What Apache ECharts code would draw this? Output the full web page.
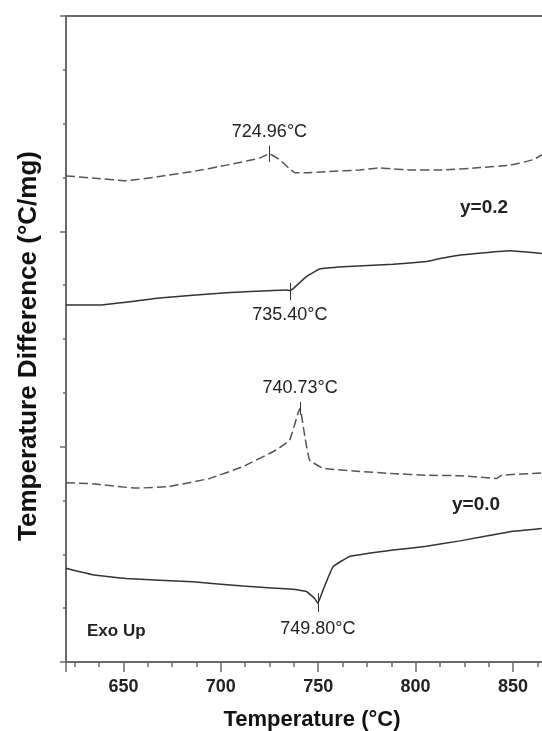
<!DOCTYPE html>
<html>
<head>
<meta charset="utf-8">
<script src="https://cdn.jsdelivr.net/npm/echarts@6/dist/echarts.min.js"></script>
<style>
  html, body { margin: 0; padding: 0; background: #fff; }
  #chart { width: 542px; height: 731px; }
</style>
</head>
<body>
<div id="chart"></div>
<script>
// DTA curves, y=0.2 (top pair) and y=0.0 (bottom pair), offset units
var tDash02 = [620.5, 634.1, 651.5, 668.5, 685.5, 703.0, 719.9, 724.96, 730.2, 735.3, 738.0, 744.0, 754.4, 771.3, 781.6, 788.0, 797.0, 814.0, 831.5, 848.5, 860.3, 864.9];
var vDash02 = [9.03, 8.99, 8.94, 9.02, 9.11, 9.23, 9.36, 9.44, 9.33, 9.16, 9.09, 9.09, 9.11, 9.14, 9.18, 9.16, 9.14, 9.14, 9.18, 9.23, 9.33, 9.42];

var tSolid02 = [620.5, 637.7, 668.5, 702.8, 733.6, 735.40, 737.0, 743.9, 750.8, 762.8, 788.5, 805.6, 810.8, 822.8, 848.5, 864.8];
var vSolid02 = [6.63, 6.63, 6.76, 6.86, 6.91, 6.90, 6.93, 7.16, 7.30, 7.34, 7.39, 7.44, 7.48, 7.56, 7.64, 7.59];

var tDash00 = [620.5, 634.2, 656.5, 673.6, 694.2, 711.3, 728.5, 735.3, 739.6, 740.73, 743.1, 745.6, 752.5, 771.3, 788.5, 805.6, 822.8, 841.6, 844.2, 864.8];
var vDash00 = [3.33, 3.31, 3.23, 3.26, 3.41, 3.63, 3.94, 4.12, 4.62, 4.71, 4.19, 3.75, 3.60, 3.54, 3.50, 3.47, 3.46, 3.41, 3.47, 3.51];

var tSolid00 = [620.5, 634.2, 651.4, 685.6, 711.3, 737.0, 743.9, 748.2, 749.80, 752.5, 757.6, 766.2, 788.5, 805.6, 822.8, 848.5, 864.8];
var vSolid00 = [1.74, 1.62, 1.55, 1.49, 1.41, 1.35, 1.31, 1.18, 1.09, 1.34, 1.77, 1.96, 2.08, 2.15, 2.25, 2.42, 2.48];

// peak temperatures and their labels
var peakTemps = [724.96, 735.40, 740.73, 749.80];
var peakLabels = ['724.96°C', '735.40°C', '740.73°C', '749.80°C'];

var xLabels = [650, 700, 750, 800, 850];

function zip(t, v) {
    var out = [];
    for (var i = 0; i < t.length; i++) out.push([t[i], v[i]]);
    return out;
}

var FONT = 'Arial, "Liberation Sans", sans-serif';
var AXIS_COLOR = '#6a6a6a';

// short vertical marker at a peak with its label
function peakMark(i, v1, v2, dist) {
    return {
        silent: true,
        symbol: ['none', 'none'],
        lineStyle: { type: 'solid', color: '#333', width: 1 },
        label: {
            show: true,
            position: 'end',
            distance: dist,
            color: '#222',
            fontSize: 18,
            fontFamily: FONT,
            formatter: peakLabels[i]
        },
        data: [[{ coord: [peakTemps[i], v1] }, { coord: [peakTemps[i], v2] }]]
    };
}

function curve(name, data, dashed, mark) {
    return {
        name: name,
        type: 'line',
        data: data,
        showSymbol: false,
        smooth: 0.1,
        lineStyle: {
            color: dashed ? '#555' : '#333',
            width: 1.5,
            type: dashed ? [9, 4] : 'solid'
        },
        markLine: mark,
        z: 3
    };
}

var myChart = echarts.init(document.getElementById('chart'));

var option = {
    animation: false,
    backgroundColor: '#fff',
    textStyle: { fontFamily: FONT },
    grid: { left: 66, top: 16, width: 484, height: 646, outerBoundsMode: 'none', containLabel: false },
    xAxis: [{
        type: 'value',
        min: 620.5,
        max: 869,
        splitNumber: 5,
        name: 'Temperature (°C)',
        nameLocation: 'middle',
        nameGap: 47,
        nameTextStyle: { fontSize: 22, fontWeight: 'bold', color: '#111', fontFamily: FONT, padding: [0, 0, 0, 8] },
        axisLine: { show: true, lineStyle: { color: AXIS_COLOR, width: 2 } },
        axisTick: { show: true, length: 10, lineStyle: { color: AXIS_COLOR, width: 1.5 } },
        minorTick: { show: true, splitNumber: 4, length: 5, lineStyle: { color: AXIS_COLOR, width: 1.5 } },
        splitLine: { show: false },
        axisLabel: {
            fontSize: 18,
            fontWeight: 'bold',
            color: '#222',
            margin: 16,
            fontFamily: FONT,
            formatter: function (val) {
                return xLabels.indexOf(Math.round(val * 100) / 100) >= 0 ? String(val) : '';
            }
        }
    }, {
        // top frame line
        type: 'value',
        position: 'top',
        min: 620.5,
        max: 869,
        axisLine: { show: true, lineStyle: { color: AXIS_COLOR, width: 2 } },
        axisTick: { show: false },
        axisLabel: { show: false },
        splitLine: { show: false }
    }],
    yAxis: {
        type: 'value',
        min: 0,
        max: 12,
        interval: 4,
        name: 'Temperature Difference (°C/mg)',
        nameLocation: 'middle',
        nameGap: 24,
        nameTextStyle: { fontSize: 26, fontWeight: 'bold', color: '#111', fontFamily: FONT, padding: [0, 14, 0, 0] },
        axisLine: { show: true, lineStyle: { color: AXIS_COLOR, width: 2 } },
        axisTick: { show: true, length: 6, lineStyle: { color: AXIS_COLOR, width: 1.5 } },
        minorTick: { show: true, splitNumber: 4, length: 3, lineStyle: { color: AXIS_COLOR, width: 1.5 } },
        axisLabel: { show: false },
        splitLine: { show: false }
    },
    series: [
        curve('y=0.2 dash', zip(tDash02, vDash02), true, peakMark(0, 9.29, 9.59, 5)),
        curve('y=0.2', zip(tSolid02, vSolid02), false, peakMark(1, 7.04, 6.72, 6)),
        curve('y=0.0 dash', zip(tDash00, vDash00), true, peakMark(2, 4.59, 4.83, 5)),
        curve('y=0.0', zip(tSolid00, vSolid00), false, peakMark(3, 1.28, 0.93, 8))
    ],
    graphic: [
        { type: 'text', left: 460, top: 198, style: { text: 'y=0.2', font: 'bold 19px ' + FONT, fill: '#222' } },
        { type: 'text', left: 452, top: 495, style: { text: 'y=0.0', font: 'bold 19px ' + FONT, fill: '#222' } },
        { type: 'text', left: 87, top: 623, style: { text: 'Exo Up', font: 'bold 17px ' + FONT, fill: '#222' } }
    ]
};

myChart.setOption(option);
window.onresize = function () {
    myChart.resize();
};
</script>
</body>
</html>
